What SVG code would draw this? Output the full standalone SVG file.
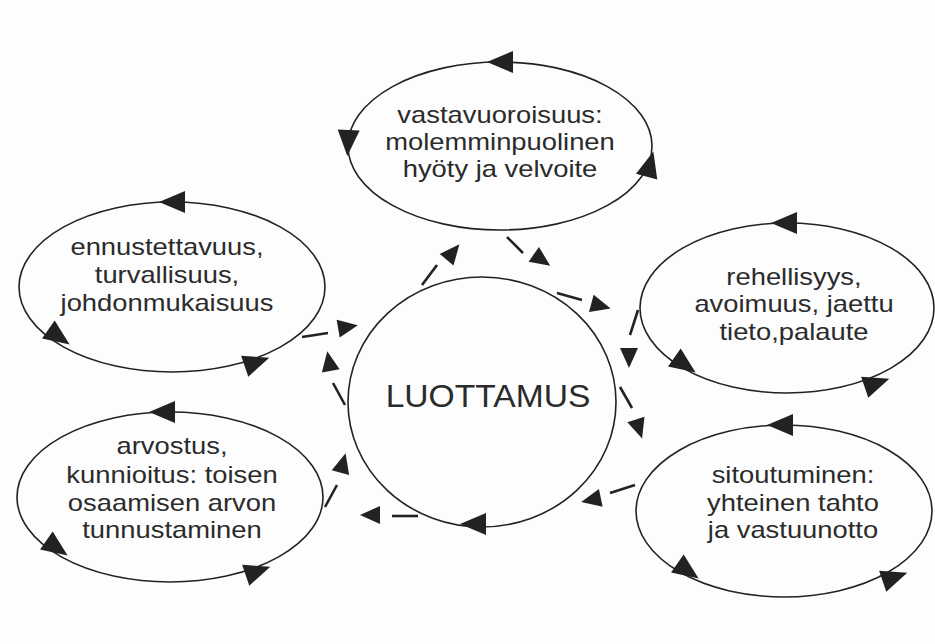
<svg xmlns="http://www.w3.org/2000/svg" xmlns:xlink="http://www.w3.org/1999/xlink" width="935" height="644" viewBox="0 0 935 644">
<style>
.bg{fill:#fdfdfd}
.ring{fill:none;stroke:#222;stroke-width:1.6}
.lbl{font-family:"Liberation Sans",Arial,sans-serif;font-size:23px;fill:#2b2b2b;text-anchor:middle}
.big{font-size:32px}
.dash{stroke:#222;stroke-width:2.6;stroke-linecap:butt;fill:none}
.head{fill:#222}
</style>
<defs>
<path id="ahL" d="M13,0 L-13,-11 L-13,11 Z"/>
<path id="ahS" d="M10,0 L-10,-9 L-10,9 Z"/>
</defs>
<rect class="bg" x="0" y="0" width="935" height="644"/>

<g id="node-vastavuoroisuus">
<ellipse class="ring" cx="500" cy="146" rx="152" ry="84"/>
<use class="head" xlink:href="#ahL" href="#ahL" transform="translate(500,62) rotate(180)"/>
<use class="head" xlink:href="#ahL" href="#ahL" transform="translate(348,143) rotate(93)"/>
<use class="head" xlink:href="#ahL" href="#ahL" transform="translate(650,164) rotate(-75)"/>
<g transform="translate(500,0) scale(1.19,1)">
<text class="lbl" x="0" y="123">vastavuoroisuus:</text>
<text class="lbl" x="0" y="150">molemminpuolinen</text>
<text class="lbl" x="0" y="177">hyöty ja velvoite</text>
</g>
</g>

<g id="node-ennustettavuus">
<ellipse class="ring" cx="172" cy="287" rx="153" ry="85"/>
<use class="head" xlink:href="#ahL" href="#ahL" transform="translate(172,202) rotate(180)"/>
<use class="head" xlink:href="#ahL" href="#ahL" transform="translate(59,337) rotate(35)"/>
<use class="head" xlink:href="#ahL" href="#ahL" transform="translate(257,362) rotate(-19)"/>
<g transform="translate(167,0) scale(1.19,1)">
<text class="lbl" x="0" y="255">ennustettavuus,</text>
<text class="lbl" x="0" y="283">turvallisuus,</text>
<text class="lbl" x="0" y="311">johdonmukaisuus</text>
</g>
</g>

<g id="node-rehellisyys">
<ellipse class="ring" cx="787" cy="308" rx="147" ry="85"/>
<use class="head" xlink:href="#ahL" href="#ahL" transform="translate(784,223) rotate(180)"/>
<use class="head" xlink:href="#ahL" href="#ahL" transform="translate(685,365) rotate(35)"/>
<use class="head" xlink:href="#ahL" href="#ahL" transform="translate(877,383) rotate(-19)"/>
<g transform="translate(794,0) scale(1.19,1)">
<text class="lbl" x="0" y="285">rehellisyys,</text>
<text class="lbl" x="0" y="312">avoimuus, jaettu</text>
<text class="lbl" x="0" y="340">tieto,palaute</text>
</g>
</g>

<g id="node-arvostus">
<ellipse class="ring" cx="170" cy="497" rx="153" ry="85"/>
<use class="head" xlink:href="#ahL" href="#ahL" transform="translate(162,412) rotate(180)"/>
<use class="head" xlink:href="#ahL" href="#ahL" transform="translate(57,548) rotate(35)"/>
<use class="head" xlink:href="#ahL" href="#ahL" transform="translate(258,571) rotate(-19)"/>
<g transform="translate(172,0) scale(1.19,1)">
<text class="lbl" x="0" y="454">arvostus,</text>
<text class="lbl" x="0" y="483">kunnioitus: toisen</text>
<text class="lbl" x="0" y="511">osaamisen arvon</text>
<text class="lbl" x="0" y="538">tunnustaminen</text>
</g>
</g>

<g id="node-sitoutuminen">
<ellipse class="ring" cx="784" cy="511" rx="148" ry="86"/>
<use class="head" xlink:href="#ahL" href="#ahL" transform="translate(780,425) rotate(180)"/>
<use class="head" xlink:href="#ahL" href="#ahL" transform="translate(688,571) rotate(35)"/>
<use class="head" xlink:href="#ahL" href="#ahL" transform="translate(895,577) rotate(-19)"/>
<g transform="translate(793,0) scale(1.19,1)">
<text class="lbl" x="0" y="483">sitoutuminen:</text>
<text class="lbl" x="0" y="511">yhteinen tahto</text>
<text class="lbl" x="0" y="538">ja vastuunotto</text>
</g>
</g>

<g id="node-luottamus">
<ellipse class="ring" cx="482" cy="402" rx="134" ry="125"/>
<use class="head" xlink:href="#ahL" href="#ahL" transform="translate(473,524) rotate(180)"/>
<g transform="translate(488,0) scale(1.05,1)">
<text class="lbl big" x="0" y="407">LUOTTAMUS</text>
</g>
</g>

<g id="connectors">
<line class="dash" x1="507" y1="237" x2="523" y2="253"/>
<use class="head" xlink:href="#ahS" href="#ahS" transform="translate(542,260) rotate(35)"/>
<line class="dash" x1="557" y1="293" x2="582" y2="300"/>
<use class="head" xlink:href="#ahS" href="#ahS" transform="translate(601,306) rotate(15)"/>
<line class="dash" x1="638" y1="310" x2="630" y2="335"/>
<use class="head" xlink:href="#ahS" href="#ahS" transform="translate(629,358) rotate(90)"/>
<line class="dash" x1="620" y1="387" x2="632" y2="408"/>
<use class="head" xlink:href="#ahS" href="#ahS" transform="translate(639,429) rotate(72)"/>
<line class="dash" x1="635" y1="485" x2="610" y2="493"/>
<use class="head" xlink:href="#ahS" href="#ahS" transform="translate(591,500) rotate(168)"/>
<line class="dash" x1="418" y1="516" x2="392" y2="516"/>
<use class="head" xlink:href="#ahS" href="#ahS" transform="translate(370,515) rotate(180)"/>
<line class="dash" x1="325" y1="507" x2="337" y2="485"/>
<use class="head" xlink:href="#ahS" href="#ahS" transform="translate(343,463) rotate(-75)"/>
<line class="dash" x1="345" y1="405" x2="333" y2="383"/>
<use class="head" xlink:href="#ahS" href="#ahS" transform="translate(329,361) rotate(-100)"/>
<line class="dash" x1="302" y1="337" x2="328" y2="333"/>
<use class="head" xlink:href="#ahS" href="#ahS" transform="translate(348,327) rotate(-10)"/>
<line class="dash" x1="422" y1="285" x2="437" y2="265"/>
<use class="head" xlink:href="#ahS" href="#ahS" transform="translate(453,252) rotate(-50)"/>
</g>
</svg>
